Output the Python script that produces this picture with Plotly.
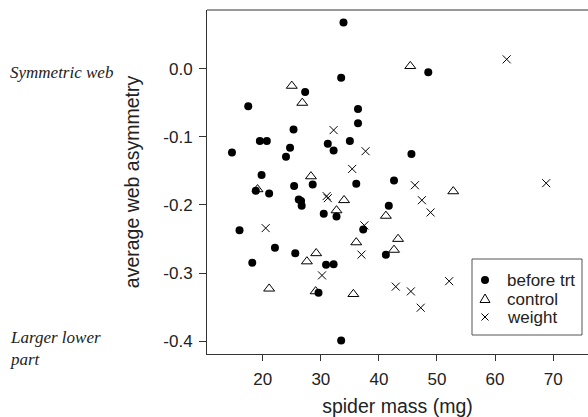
import plotly.graph_objects as go

# ---- data ----
before_x = [33.9, 33.5, 27.3, 17.5, 36.4, 36.4, 25.3, 19.5, 20.7, 14.7, 24.7, 24.0, 31.2, 32.2,
            35.0, 19.8, 18.8, 21.1, 25.4, 28.6, 36.1, 42.6, 26.2, 26.6, 26.7, 32.7, 30.5, 41.7,
            16.0, 37.3, 22.1, 25.6, 41.2, 18.2, 30.9, 32.2, 29.6, 33.5, 48.5, 45.6]
before_y = [0.068, -0.013, -0.034, -0.055, -0.059, -0.080, -0.089, -0.106, -0.106, -0.123, -0.116,
            -0.129, -0.110, -0.120, -0.106, -0.156, -0.179, -0.183, -0.172, -0.170, -0.169, -0.164,
            -0.192, -0.194, -0.201, -0.217, -0.213, -0.201, -0.237, -0.236, -0.263, -0.271, -0.273,
            -0.285, -0.288, -0.287, -0.329, -0.399, -0.005, -0.125]

control_x = [25.0, 26.8, 28.3, 19.1, 34.0, 32.7, 41.2, 43.3, 36.1, 29.2, 27.6, 42.6, 21.1, 29.1,
             35.6, 45.4, 52.8]
control_y = [-0.025, -0.050, -0.158, -0.177, -0.193, -0.208, -0.216, -0.250, -0.255, -0.271,
             -0.283, -0.266, -0.323, -0.327, -0.331, 0.004, -0.180]

weight_x = [32.2, 37.7, 35.4, 31.0, 31.2, 20.5, 37.5, 37.0, 30.2, 42.9, 62.0, 46.2, 47.4, 48.9,
            68.8, 45.5, 47.2, 52.1]
weight_y = [-0.090, -0.121, -0.147, -0.187, -0.190, -0.234, -0.230, -0.273, -0.3035, -0.320,
            0.014, -0.171, -0.193, -0.211, -0.168, -0.327, -0.351, -0.312]

x_ticks = [20, 30, 40, 50, 60, 70]
y_ticks = [0.0, -0.1, -0.2, -0.3, -0.4]
y_tick_text = ["0.0", "-0.1", "-0.2", "-0.3", "-0.4"]
legend_labels = ["before trt", "control", "weight"]

W, H = 588, 417
ML, MR, MT, MB = 207, 0, 10, 63
PW, PH = W - ML - MR, H - MT - MB


def px_x(p):
    return (p - ML) / PW


def px_y(p):
    return (H - MB - p) / PH


AX = "#333333"
fig = go.Figure()
fig.add_trace(go.Scatter(x=before_x, y=before_y, mode="markers", name=legend_labels[0],
                         marker=dict(symbol="circle", size=8, color="black", line=dict(width=0)),
                         showlegend=False))
fig.add_trace(go.Scatter(x=control_x, y=control_y, mode="markers", name=legend_labels[1],
                         marker=dict(symbol="triangle-up-open", size=9.5, color="black",
                                     line=dict(width=1, color="black")),
                         showlegend=False))
fig.add_trace(go.Scatter(x=weight_x, y=weight_y, mode="markers", name=legend_labels[2],
                         marker=dict(symbol="x-thin-open", size=8, color="black",
                                     line=dict(width=1, color="black")),
                         showlegend=False))

font_sans = "Liberation Sans, Arial, sans-serif"
fig.update_layout(
    width=W, height=H,
    margin=dict(l=ML, r=MR, t=MT, b=MB, pad=0),
    paper_bgcolor="white", plot_bgcolor="white",
    font=dict(family=font_sans, color="#222222", size=17),
    xaxis=dict(range=[10.4, 76.0], tickvals=x_ticks, ticks="outside", ticklen=6, tickcolor=AX,
               showline=True, linecolor=AX, linewidth=1, showgrid=False, zeroline=False,
               tickfont=dict(size=17), ticklabelstandoff=4,
               title=dict(text="spider mass (mg)", font=dict(size=19.5), standoff=10)),
    yaxis=dict(range=[-0.419, 0.0865], tickvals=y_ticks, ticktext=y_tick_text, ticks="outside",
               ticklen=7, tickcolor=AX, showline=True, linecolor=AX, linewidth=1,
               showgrid=False, zeroline=False, tickfont=dict(size=17), ticklabelstandoff=3,
               title=dict(text="average web asymmetry", font=dict(size=19.5), standoff=18)),
    showlegend=False,
)

shapes = [
    dict(type="line", xref="paper", yref="paper", x0=0, x1=1, y0=1, y1=1,
         line=dict(color=AX, width=1)),
    dict(type="rect", xref="paper", yref="paper", x0=px_x(472), x1=px_x(582),
         y0=px_y(335), y1=px_y(259), line=dict(color="#555555", width=1)),
]
glyph_x = px_x(485)
glyph_y = [px_y(280), px_y(299), px_y(317)]
shapes.append(dict(type="circle", xref="paper", yref="paper", xsizemode="pixel", ysizemode="pixel",
                   xanchor=glyph_x, yanchor=glyph_y[0], x0=-4, x1=4, y0=-4, y1=4,
                   fillcolor="black", line=dict(width=0)))
shapes.append(dict(type="path", xref="paper", yref="paper", xsizemode="pixel", ysizemode="pixel",
                   xanchor=glyph_x, yanchor=glyph_y[1],
                   path="M-5,-3.5 L5,-3.5 L0,5 Z", line=dict(color="black", width=1)))
shapes.append(dict(type="path", xref="paper", yref="paper", xsizemode="pixel", ysizemode="pixel",
                   xanchor=glyph_x, yanchor=glyph_y[2],
                   path="M-3.5,-3.5 L3.5,3.5 M-3.5,3.5 L3.5,-3.5", line=dict(color="black", width=1)))
fig.update_layout(shapes=shapes)

annotations = []
for lab, gy in zip(legend_labels, glyph_y):
    annotations.append(dict(text=lab, xref="paper", yref="paper", x=px_x(505), y=gy,
                            xanchor="left", yanchor="middle", showarrow=False,
                            font=dict(size=17, family=font_sans, color="#222222")))
serif = "Liberation Serif, Times New Roman, serif"
annotations.append(dict(text="<i>Symmetric web</i>", xref="paper", yref="paper", x=px_x(8),
                        y=px_y(72), xanchor="left", yanchor="middle", showarrow=False,
                        font=dict(size=17, family=serif, color="#222222")))
annotations.append(dict(text="<i>Larger lower<br>part</i>", xref="paper", yref="paper", x=px_x(8),
                        y=px_y(348.5), xanchor="left", yanchor="middle", align="left",
                        showarrow=False, font=dict(size=17, family=serif, color="#222222")))
fig.update_layout(annotations=annotations)

fig.write_html("out.html", config={"displayModeBar": False},
               post_script="document.body.style.margin='0px';")
